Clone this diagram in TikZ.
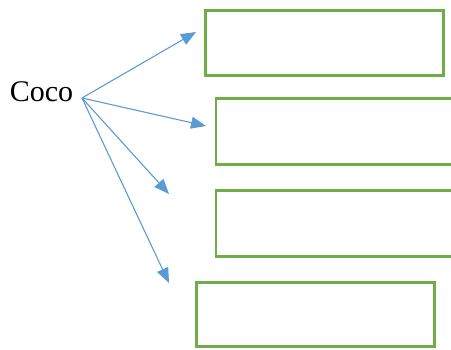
\documentclass[tikz,border=0pt]{standalone}
\usepackage{fontspec}
\setmainfont{Liberation Serif}
\usetikzlibrary{arrows.meta}
\definecolor{arrblue}{RGB}{91,155,213}
\definecolor{boxgreen}{RGB}{112,173,71}
\begin{document}
\begin{tikzpicture}[x=1pt,y=-1pt,
  greenbox/.style={draw=boxgreen,line width=2.6pt,fill=white,rectangle,inner sep=0pt},
  conn/.style={draw=arrblue,line width=1.1pt,-{Triangle[length=15pt,width=12pt]}}]
\clip (0,0) rectangle (451,349);
\useasboundingbox (0,0) rectangle (451,349);
\node[greenbox,minimum width=238pt,minimum height=65pt] (b1) at (324.5,43) {};
\node[greenbox,minimum width=240pt,minimum height=66pt] (b2) at (336,131.5) {};
\node[greenbox,minimum width=240pt,minimum height=66pt] (b3) at (336,223.5) {};
\node[greenbox,minimum width=238pt,minimum height=64pt] (b4) at (315.5,314.5) {};
\node[font=\fontsize{30}{34}\selectfont,inner sep=0pt] (coco) at (41.5,92) {Coco};
\coordinate (src) at (82,98);
\coordinate (t1) at (196,32);
\coordinate (t2) at (206,126);
\coordinate (t3) at (169,194);
\coordinate (t4) at (169,283);
\draw[conn] (src) -- (t1);
\draw[conn] (src) -- (t2);
\draw[conn] (src) -- (t3);
\draw[conn] (src) -- (t4);
\end{tikzpicture}
\end{document}
